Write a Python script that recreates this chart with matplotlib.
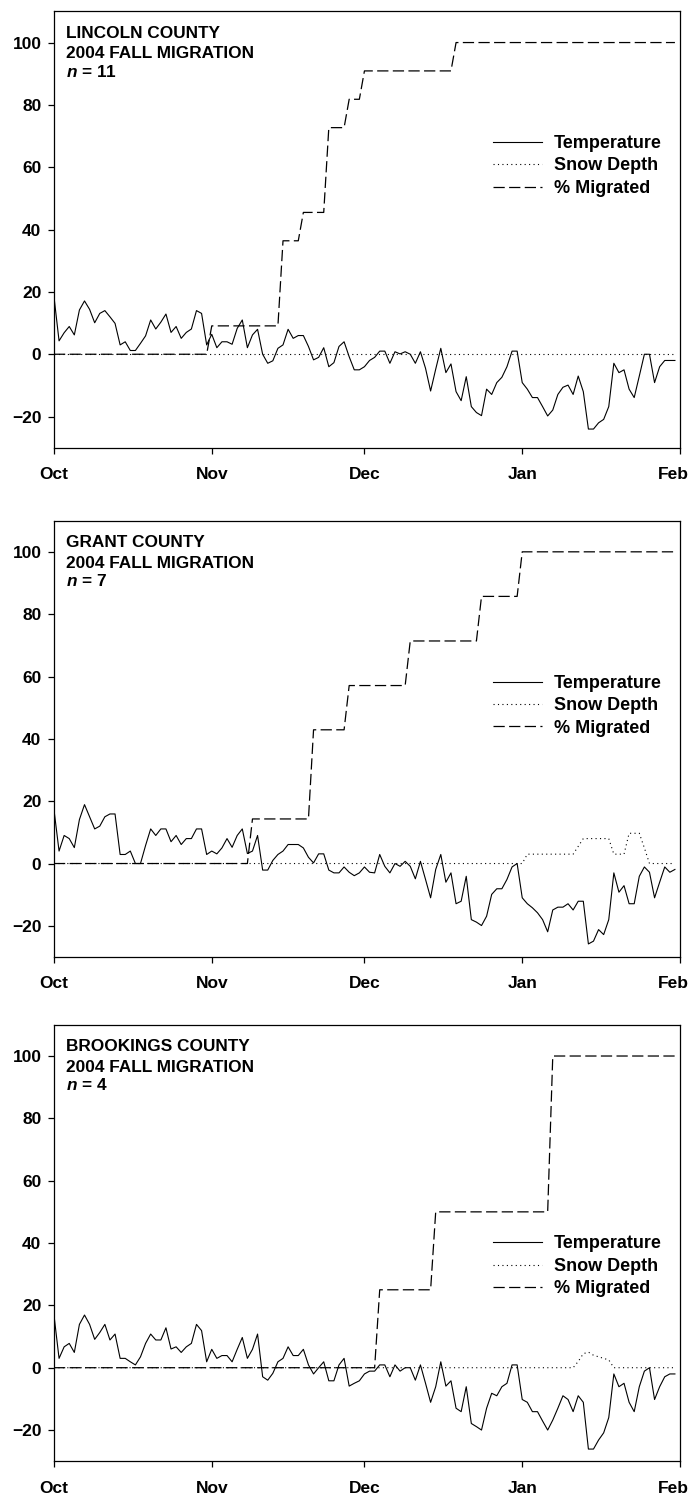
import numpy as np
import matplotlib
matplotlib.use('Agg')
from matplotlib import pyplot as plt
import matplotlib.transforms as mtransforms

plt.rcParams['font.family'] = ['Liberation Sans', 'DejaVu Sans']
plt.rcParams['font.weight'] = 'bold'
plt.rcParams['mathtext.fontset'] = 'custom'
plt.rcParams['mathtext.it'] = 'Liberation Sans:italic:bold'
plt.rcParams['mathtext.rm'] = 'Liberation Sans:bold'

# day 0 = Oct 1 2004, daily values through Jan 31
month_ticks = [0, 31, 61, 92, 123]
month_labels = ['Oct', 'Nov', 'Dec', 'Jan', 'Feb']

counties = ['LINCOLN COUNTY', 'GRANT COUNTY', 'BROOKINGS COUNTY']
n_birds = [11, 7, 4]

temp_lincoln = [18.5, 4.3, 6.9, 8.9, 6.2, 14.2, 17.1, 14.4, 10.1, 13.1, 14, 12, 9.9, 3, 4, 1.2,
                1.2, 3.5, 5.9, 11, 8.1, 10.3, 12.9, 7, 8.9, 5.1, 7, 8.1, 14, 13.1, 3, 6.4,
                2.1, 4, 4, 3.2, 8.3, 11, 2.1, 6.2, 8, 0, -2.9, -2.1, 1.9, 3, 8, 5.1,
                6, 6, 2.5, -1.8, -1, 2.1, -4, -2.7, 2.5, 4, -0.8, -5, -5, -4, -2, -1,
                1, 1, -2.9, 0.8, 0.1, 0.8, 0, -2.9, 0.8, -4.5, -11.8, -4.8, 1.9, -5.9, -3.1,
                -12, -14.9, -7.2, -16.8, -18.7, -19.7, -11.2, -12.9, -9.1, -7.4, -4, 1, 1,
                -9.1, -11.2, -13.9, -13.9, -16.8, -19.8, -17.9, -12.9, -10.6, -9.9, -12.9,
                -7, -12, -24, -24, -22, -20.9, -16.8, -2.9, -5.9, -5, -11.2, -13.9, -7,
                0, 0, -9.1, -4, -2, -2, -2]

temp_grant = [17.3, 4, 9, 8, 5.1, 14.1, 18.9, 15, 11.1, 12, 15, 15.9, 15.9, 2.9, 2.9, 4,
              0, 0, 5.8, 11.1, 9, 11.1, 11.1, 7, 9, 6.1, 8, 8, 11.1, 11.1, 2.9, 4,
              3.1, 5, 8, 5.2, 9, 11.1, 3.2, 4, 9, -2.1, -2.1, 1, 2.9, 4, 6.1, 6.1,
              6.1, 5, 2, 0.2, 3.1, 3.1, -2.1, -3, -3, -1.1, -2.8, -3.9, -3, -1.1, -2.8, -3,
              2.9, -0.9, -3, 0, -0.9, 0.7, -0.9, -4.9, 0.7, -5.1, -11, -1.9, 2.9, -6, -3,
              -12.9, -12.1, -4.1, -18, -18.8, -19.9, -16.9, -9.9, -8.1, -8.1, -5.1, -1.1, 0,
              -11, -12.9, -14.2, -15.8, -18, -21.9, -14.9, -14, -14, -12.9, -14.9,
              -12.1, -12.1, -25.8, -24.9, -21.2, -22.8, -18, -3, -9.2, -7.1, -12.9, -12.9, -4.1,
              -1.1, -2.8, -11, -6, -1.1, -2.8, -1.9]

temp_brookings = [16.9, 3, 6.7, 7.8, 4.9, 13.9, 16.9, 13.9, 9.1, 11.3, 13.9, 8.9, 10.8, 3, 3, 1.9,
                  0.9, 3.5, 7.8, 10.8, 8.9, 8.9, 12.8, 6, 6.7, 4.9, 6.7, 7.8, 13.9, 11.9, 1.9, 5.9,
                  3, 3.9, 3.9, 1.9, 5.9, 9.7, 3, 5.9, 10.8, -2.9, -4, -1.8, 1.9, 3, 6.7, 3.9,
                  3.9, 5.9, 0.9, -2, 0, 1.9, -4.2, -4.2, 0.9, 3, -5.9, -5, -4.2, -2, -1.1, -1.1,
                  0.9, 0.9, -2.9, 0.9, -1.1, 0, 0, -4, 0.9, -5, -11.1, -6.1, 1.9, -5.9, -4.2,
                  -13, -14.1, -6.1, -17.9, -18.9, -20, -13, -8.2, -9, -6.1, -5, 0.9, 0.9,
                  -10.2, -11.1, -14.1, -14.1, -17.1, -20, -16.8, -13, -9, -10.2, -14.1,
                  -9, -11.1, -26.1, -26.1, -23.2, -20.9, -16, -2, -6.1, -5, -11.1, -14.1, -6.1,
                  -1.1, 0, -10.2, -6.1, -2.9, -2, -2]

# snow depth and % migrated, as (day, value) vertices of the daily line
snow_days_lincoln = [0, 122]
snow_lincoln = [0, 0]
snow_days_grant = [0, 92, 93, 102, 103, 104, 109, 110, 112, 113, 115, 116, 117, 122]
snow_grant = [0, 0, 3, 3, 5.5, 8, 8, 3, 3, 9.7, 9.7, 5, 0, 0]
snow_days_brookings = [0, 102, 103, 104, 105, 106, 107, 108, 109, 110, 122]
snow_brookings = [0, 0, 2, 4.5, 5, 4, 3.5, 3, 2.5, 0, 0]

mig_days_lincoln = [0, 30, 31, 44, 45, 48, 49, 53, 54, 57, 58, 60, 61, 78, 79, 122]
mig_lincoln = [0, 0, 9.1, 9.1, 36.4, 36.4, 45.5, 45.5, 72.7, 72.7, 81.8, 81.8, 90.9, 90.9, 100, 100]
mig_days_grant = [0, 38, 39, 50, 51, 57, 58, 69, 70, 83, 84, 91, 92, 122]
mig_grant = [0, 0, 14.3, 14.3, 42.9, 42.9, 57.1, 57.1, 71.4, 71.4, 85.7, 85.7, 100, 100]
mig_days_brookings = [0, 63, 64, 74, 75, 97, 98, 122]
mig_brookings = [0, 0, 25, 25, 50, 50, 100, 100]

temps = [temp_lincoln, temp_grant, temp_brookings]
snows = [(snow_days_lincoln, snow_lincoln), (snow_days_grant, snow_grant),
         (snow_days_brookings, snow_brookings)]
migs = [(mig_days_lincoln, mig_lincoln), (mig_days_grant, mig_grant),
        (mig_days_brookings, mig_brookings)]
legend_mid = [60.4, 50.6, 32.5]

fig = plt.figure(figsize=(6.91, 14.97), dpi=100)
bottoms = [0.7009, 0.3607, 0.0239]

for i in range(3):
    ax = fig.add_axes([0.0781, bottoms[i], 0.906, 0.2915])
    t = temps[i]
    ax.plot(np.arange(len(t)), t, color='k', lw=0.8, label='Temperature')
    ax.plot(snows[i][0], snows[i][1], color='k', lw=0.8, linestyle=(0, (1, 3)), label='Snow Depth')
    ax.plot(migs[i][0], migs[i][1], color='k', lw=0.9, linestyle=(0, (9, 3.5)), label='% Migrated')

    ax.set_xlim(0, 123)
    ax.set_ylim(-30, 110)
    ax.set_xticks(month_ticks)
    ax.set_xticklabels(month_labels)
    ax.set_yticks([-20, 0, 20, 40, 60, 80, 100])
    ax.tick_params(axis='both', direction='out', length=4.5, width=0.9, labelsize=12.5)
    ax.tick_params(axis='x', pad=9.5)
    ax.tick_params(axis='y', pad=4.5)
    for lab in ax.get_xticklabels() + ax.get_yticklabels():
        lab.set_fontweight('bold')
    # Feb label sits just inside the figure edge
    feb = ax.get_xticklabels()[-1]
    feb.set_transform(feb.get_transform() +
                      mtransforms.ScaledTranslation(-7 / 100, 0, fig.dpi_scale_trans))
    for s in ax.spines.values():
        s.set_linewidth(0.9)

    ax.text(2.3, 101.6, counties[i], fontsize=12.4, fontweight='bold', va='baseline')
    ax.text(2.3, 94.9, '2004 FALL MIGRATION', fontsize=12.4, fontweight='bold', va='baseline')
    ax.text(2.3, 89.0, '$n$ = %d' % n_birds[i], fontsize=12.4, fontweight='bold', va='baseline')

    leg = ax.legend(loc='center left', bbox_to_anchor=(86.3, legend_mid[i]),
                    bbox_transform=ax.transData, frameon=False, borderpad=0,
                    borderaxespad=0, handlelength=2.7, handletextpad=0.65,
                    labelspacing=0.3, prop={'size': 13, 'weight': 'bold'})

fig.savefig('out.png', dpi=100)
